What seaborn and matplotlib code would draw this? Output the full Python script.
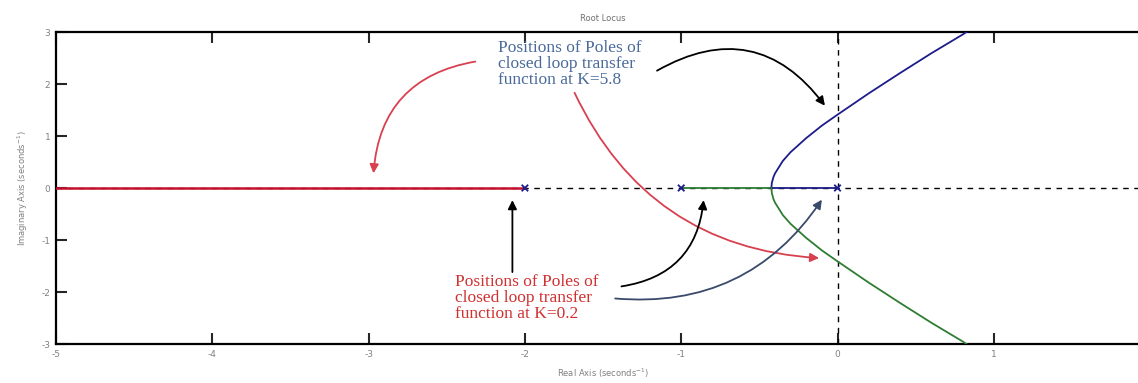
import matplotlib
matplotlib.use("Agg")
import matplotlib.pyplot as plt
import seaborn as sns
import pandas as pd

# root locus branches
red_re = [-2.0, -5.3]
red_im = [0.0, 0.0]
green_real_re = [-1.0, -0.423]
blue_real_re = [0.0, -0.423]
real_im = [0.0, 0.0]

upper_re = [-0.423, -0.42, -0.41, -0.40, -0.35, -0.30, -0.20, -0.10, 0.0, 0.2, 0.4, 0.6, 0.8, 0.83]
upper_im = [0.0, 0.10, 0.21, 0.28, 0.52, 0.69, 0.96, 1.20, 1.41, 1.82, 2.21, 2.59, 2.95, 3.01]
lower_im = [0.0, -0.10, -0.21, -0.28, -0.52, -0.69, -0.96, -1.20, -1.41, -1.82, -2.21, -2.59, -2.95, -3.01]

poles = [-2.0, -1.0, 0.0]
xticks = [-5, -4, -3, -2, -1, 0, 1]
yticks = [-3, -2, -1, 0, 1, 2, 3]

text_high = "Positions of Poles of\nclosed loop transfer\nfunction at K=5.8"
text_low = "Positions of Poles of\nclosed loop transfer\nfunction at K=0.2"

RED = "#c8102e"
BLUE = "#1c1c8a"
GREEN = "#2e7d32"

sns.set_style("ticks")
plt.rcParams["font.family"] = ["DejaVu Sans"]
plt.rcParams["axes.unicode_minus"] = False

fig = plt.figure(figsize=(11.38, 3.83), dpi=100)
ax = fig.add_axes([56 / 1138, 39 / 383, 7 * 156.3 / 1138, 312 / 383])

ax.axhline(0, color="black", lw=1, ls=(0, (4, 4)), zorder=1)
ax.axvline(0, color="black", lw=1, ls=(0, (4, 4)), zorder=1)

def branch(x, y, color, lw=1.3):
    df = pd.DataFrame({"re": x, "im": y})
    sns.lineplot(data=df, x="re", y="im", sort=False, estimator=None,
                 color=color, lw=lw, ax=ax, zorder=3)

branch(red_re, red_im, RED, lw=1.8)
branch(green_real_re, real_im, GREEN)
branch(blue_real_re, real_im, BLUE)
branch(upper_re, upper_im, BLUE)
branch(upper_re, lower_im, GREEN)

sns.scatterplot(x=poles, y=[0, 0, 0], marker="x", s=22, linewidth=1.3,
                hue=poles, palette=[BLUE, BLUE, BLUE], legend=False, ax=ax, zorder=4)

ax.set_xlim(-5, 2)
ax.set_ylim(-3, 3)
ax.set_xticks(xticks)
ax.set_yticks(yticks)
ax.tick_params(direction="in", length=8, width=1.5, top=True, right=True,
               labelsize=6.5, labelcolor="#808080", pad=4)
for s in ax.spines.values():
    s.set_linewidth(1.6)
    s.set_color("black")

ax.set_title("Root Locus", fontsize=6, color="#707070", pad=8)
ax.set_xlabel("Real Axis (seconds$^{-1}$)", fontsize=6, color="#808080", labelpad=6)
ax.set_ylabel("Imaginary Axis (seconds$^{-1}$)", fontsize=6, color="#808080", labelpad=8)

serif = ["Liberation Serif", "DejaVu Serif"]
ax.text(-2.17, 2.38, text_high, color="#4a6a9a", fontsize=12.5, family=serif,
        ha="left", va="center", linespacing=1.02)
ax.text(-2.45, -2.12, text_low, color="#d03030", fontsize=12.5, family=serif,
        ha="left", va="center", linespacing=1.02)

def arrow(start, end, color, rad):
    ax.annotate("", xy=end, xytext=start,
                arrowprops=dict(arrowstyle="-|>", color=color, lw=1.3,
                                mutation_scale=13,
                                connectionstyle=f"arc3,rad={rad}"), zorder=5)

arrow((-2.30, 2.44), (-2.97, 0.23), "#d84050", 0.4)
arrow((-1.69, 1.88), (-0.10, -1.35), "#d84050", 0.3)
arrow((-1.17, 2.23), (-0.07, 1.54), "black", -0.45)
arrow((-2.08, -1.67), (-2.08, -0.18), "black", 0.0)
arrow((-1.40, -1.90), (-0.855, -0.18), "black", 0.4)
arrow((-1.44, -2.12), (-0.09, -0.18), "#3a4a6a", 0.3)

fig.savefig("out.png", dpi=100)
